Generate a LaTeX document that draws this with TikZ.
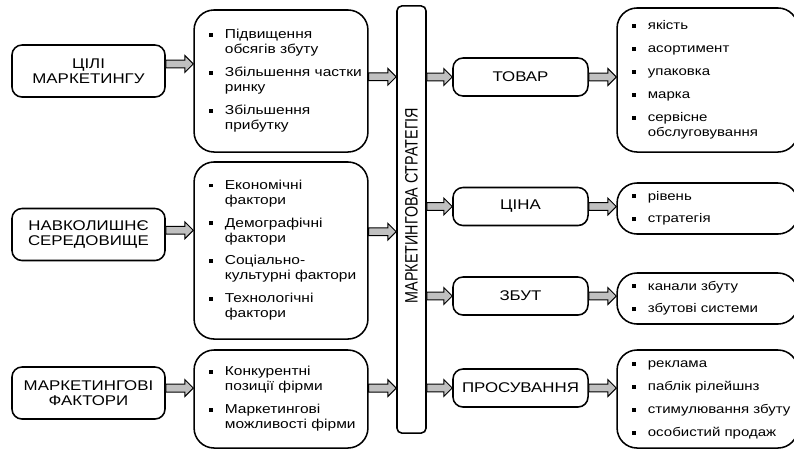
\documentclass[tikz,border=0pt]{standalone}
\usepackage{fontspec}
\usepackage{graphicx}
\setmainfont{Liberation Sans}[FakeStretch=1.2]
\newfontfamily\stratfont{Liberation Sans}
\usetikzlibrary{calc}
\definecolor{arrowgray}{RGB}{192,192,192}
\newcommand{\sqb}{\rule[1.3pt]{2.8pt}{2.8pt}}

\begin{document}
\begin{tikzpicture}[x=0.025cm, y=-0.025cm,
    title/.style ={draw, line width=1.1pt, rounded corners=0.25cm, align=center,
      font=\fontsize{10}{10.6}\selectfont},
    factor/.style ={title, minimum width=3.825cm, minimum height=1.3cm},
    element/.style ={title, minimum width=3.375cm, minimum height=0.95cm},
    points/.style ={draw, line width=1.1pt, rounded corners=0.5cm, inner xsep=10.6pt,
      align=left, font=\fontsize{9.2}{10.6}\selectfont},
    midlist/.style ={points, text width=3.6cm},
    rightlist/.style ={points, text width=3.775cm, font=\fontsize{8.9}{10.6}\selectfont},
    fatarrow/.style ={draw, fill=arrowgray, line width=0.7pt,
      to path={let \p1=(\tikztostart), \p2=(\tikztotarget) in
        (\x1,\y1+2.8pt) -- (\x2-6pt,\y1+2.8pt) -- (\x2-6pt,\y1+6pt) -- (\x2,\y1)
        -- (\x2-6pt,\y1-6pt) -- (\x2-6pt,\y1-2.8pt) -- (\x1,\y1-2.8pt) -- cycle}}]
   \path[use as bounding box] (0,0) rectangle (794,450);
   \clip (0,0) rectangle (794,450);

   \node[factor] (goals) at (88.5,71) {ЦІЛІ\\МАРКЕТИНГУ};
   \node[factor] (env) at (88.5,234.5) {НАВКОЛИШНЄ\\СЕРЕДОВИЩЕ};
   \node[factor] (mfact) at (88.5,393) {МАРКЕТИНГОВІ\\ФАКТОРИ};

   \node[midlist, minimum height=3.55cm] (glist) at (281,81) {%
     \begin{tabular}{@{}l@{\hspace{8.5pt}}l@{}}
     \sqb & Підвищення\\ & обсягів збуту\\[5.7pt]
     \sqb & Збільшення частки\\ & ринку\\[5.7pt]
     \sqb & Збільшення\\ & прибутку
     \end{tabular}};
   \node[midlist, minimum height=4.425cm] (elist) at (281,250.5) {%
     \begin{tabular}{@{}l@{\hspace{8.5pt}}l@{}}
     \sqb & Економічні\\ & фактори\\[5.7pt]
     \sqb & Демографічні\\ & фактори\\[5.7pt]
     \sqb & Соціально-\\ & культурні фактори\\[5.7pt]
     \sqb & Технологічні\\ & фактори
     \end{tabular}};
   \node[midlist, minimum height=2.45cm] (flist) at (281,399) {%
     \begin{tabular}{@{}l@{\hspace{8.5pt}}l@{}}
     \sqb & Конкурентні\\ & позиції фірми\\[5.7pt]
     \sqb & Маркетингові\\ & можливості фірми
     \end{tabular}};

   \node[draw, line width=1.1pt, rounded corners=0.12cm, minimum width=0.725cm,
     minimum height=10.675cm,
     label={[rotate=90, xshift=0.35cm, font=\stratfont\fontsize{10.2}{12}\selectfont]center:%
       \scalebox{1}[1.25]{МАРКЕТИНГОВА СТРАТЕГІЯ}}] (strat) at (411.5,219.5) {};

   \node[element] (product) at (520.5,77) {ТОВАР};
   \node[element] (price) at (520.5,206.5) {ЦІНА};
   \node[element] (place) at (520.5,296) {ЗБУТ};
   \node[element] (promo) at (520.5,388) {ПРОСУВАННЯ};

   \node[rightlist, minimum height=3.6cm] (plist) at (707.5,80) {%
     \begin{tabular}{@{}l@{\hspace{8.5pt}}l@{}}
     \sqb & якість\\[5.7pt]
     \sqb & асортимент\\[5.7pt]
     \sqb & упаковка\\[5.7pt]
     \sqb & марка\\[5.7pt]
     \sqb & сервісне\\ & обслуговування
     \end{tabular}};
   \node[rightlist, minimum height=1.275cm] (prlist) at (707.5,208.5) {%
     \begin{tabular}{@{}l@{\hspace{8.5pt}}l@{}}
     \sqb & рівень\\[5.7pt]
     \sqb & стратегія
     \end{tabular}};
   \node[rightlist, minimum height=1.275cm] (pllist) at (707.5,298.5) {%
     \begin{tabular}{@{}l@{\hspace{8.5pt}}l@{}}
     \sqb & канали збуту\\[5.7pt]
     \sqb & збутові системи
     \end{tabular}};
   \node[rightlist, minimum height=2.45cm] (pmlist) at (707.5,399) {%
     \begin{tabular}{@{}l@{\hspace{8.5pt}}l@{}}
     \sqb & реклама\\[5.7pt]
     \sqb & паблік рілейшнз\\[5.7pt]
     \sqb & стимулювання збуту\\[5.7pt]
     \sqb & особистий продаж
     \end{tabular}};

   \draw[fatarrow] ([yshift=5pt]goals.east) to ([yshift=5pt]goals.east -| glist.west);
   \draw[fatarrow] ([yshift=3pt]glist.east) to ([yshift=3pt]glist.east -| strat.west);
   \draw[fatarrow] ([yshift=3pt]env.east) to ([yshift=3pt]env.east -| elist.west);
   \draw[fatarrow] ([yshift=2pt]env.east -| elist.east) to ([yshift=2pt]env.east -| strat.west);
   \draw[fatarrow] ([yshift=3.5pt]mfact.east) to ([yshift=3.5pt]mfact.east -| flist.west);
   \draw[fatarrow] ([yshift=3.5pt]mfact.east -| flist.east) to ([yshift=3.5pt]mfact.east -| strat.west);

   \draw[fatarrow] (strat.east |- product) to (product.west);
   \draw[fatarrow] (strat.east |- price) to (price.west);
   \draw[fatarrow] (strat.east |- place) to (place.west);
   \draw[fatarrow] (strat.east |- promo) to (promo.west);
   \draw[fatarrow] (product.east) to (product.east -| plist.west);
   \draw[fatarrow] (price.east) to (price.east -| prlist.west);
   \draw[fatarrow] (place.east) to (place.east -| pllist.west);
   \draw[fatarrow] (promo.east) to (promo.east -| pmlist.west);
 \end{tikzpicture}
\end{document}
